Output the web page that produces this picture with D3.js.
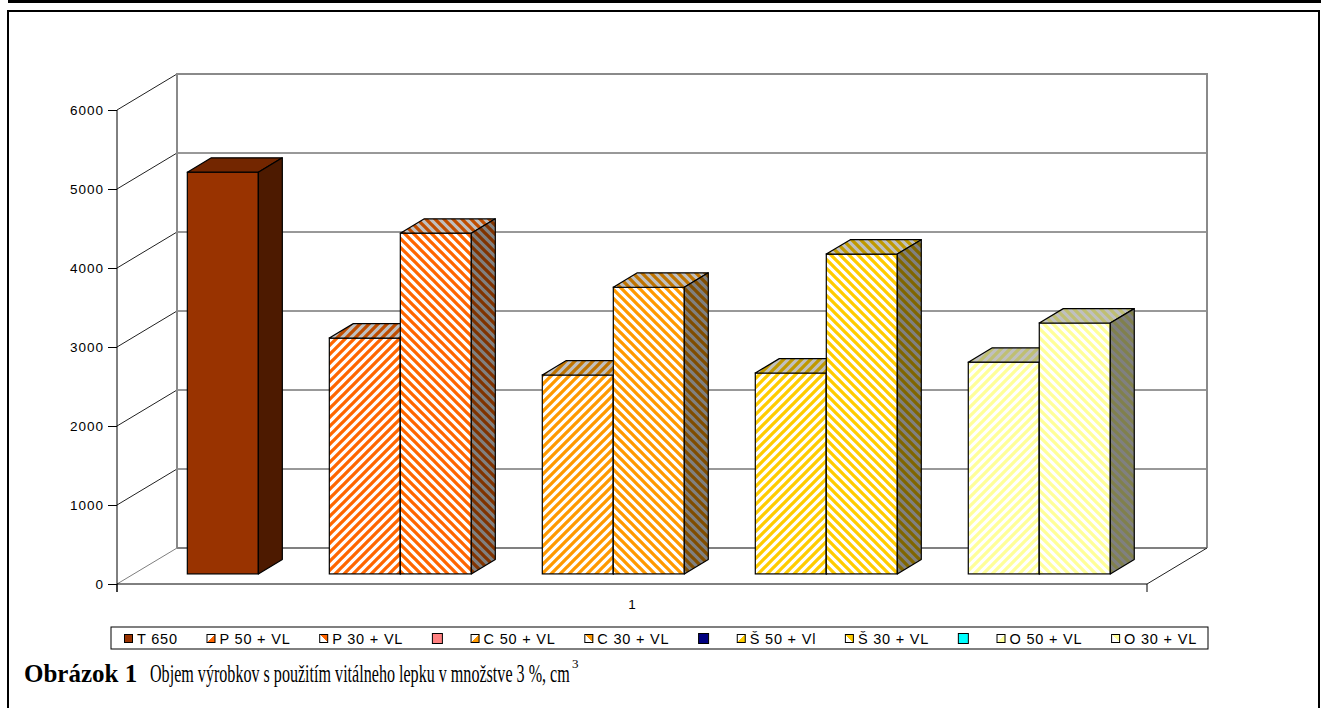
<!DOCTYPE html>
<html>
<head>
<meta charset="utf-8">
<script src="https://cdn.jsdelivr.net/npm/d3@7"></script>
<style>
  body { margin: 0; background: #fff; }
  svg { display: block; }
  .sans { font-family: "Liberation Sans", Arial, sans-serif; }
  .serif { font-family: "Liberation Serif", "Times New Roman", serif; }
</style>
</head>
<body>
<svg id="chart" width="1321" height="708"></svg>
<script>
// chart data: one category, 13 series slots (slot 1 is an empty series without legend entry)
var categories = ['1'];
var seriesNames  = ['T 650', '', 'P 50 + VL', 'P 30 + VL', '', 'C 50 + VL', 'C 30 + VL', '', 'Š 50 + Vl', 'Š 30 + VL', '', 'O 50 + VL', 'O 30 + VL'];
var seriesValues = [5085, null, 2986, 4313, null, 2518, 3629, null, 2543, 4049, null, 2680, 3176];
var seriesColors = ['#993300', '#ffffff', '#ff6600', '#ff6600', '#ff8080', '#ff9900', '#ff9900', '#000080', '#ffcc00', '#ffcc00', '#00ffff', '#ffff99', '#ffff99'];
var seriesFills  = ['solid', 'none', 'up', 'down', 'solid', 'up', 'down', 'solid', 'up', 'down', 'solid', 'up', 'down'];
var inLegend     = [true, false, true, true, true, true, true, true, true, true, true, true, true];
var yTicks = [0, 1000, 2000, 3000, 4000, 5000, 6000];

var svg = d3.select('#chart');
var defs = svg.append('defs');

/* ---------- geometry ---------- */
var plotL = 117, plotR = 1147, floorY = 584, topY = 110;
var depthX = 60, depthY = -36;          // full floor depth, screen offset
var barT0 = 0.28, barT1 = 0.68;         // bar depth position (fraction of floor)

var x = d3.scaleBand()
  .domain(d3.range(seriesNames.length))
  .range([plotL, plotR])
  .paddingInner(0)
  .paddingOuter(0.754);

var y = d3.scaleLinear().domain([0, 6000]).range([floorY, topY]);

function shade(c, k) {
  var r = d3.rgb(c);
  return d3.rgb(r.r * k, r.g * k, r.b * k).formatHex();
}

// striped pattern, 9px tile
var P = 9;
function addPattern(id, bg, fg, dir) {
  var p = defs.append('pattern')
    .attr('id', id)
    .attr('patternUnits', 'userSpaceOnUse')
    .attr('width', P)
    .attr('height', P);
  p.append('rect').attr('width', P).attr('height', P).attr('fill', bg);
  var h = P / 4;
  var d = dir === 'up'
    ? 'M' + (-h) + ',' + h + 'L' + h + ',' + (-h) + 'M0,' + P + 'L' + P + ',0M' + (P - h) + ',' + (P + h) + 'L' + (P + h) + ',' + (P - h)
    : 'M' + (-h) + ',' + (P - h) + 'L' + h + ',' + (P + h) + 'M0,0L' + P + ',' + P + 'M' + (P - h) + ',' + (-h) + 'L' + (P + h) + ',' + h;
  p.append('path').attr('d', d).attr('stroke', fg).attr('stroke-width', 3.3).attr('fill', 'none');
}

var faceFill = seriesNames.map(function(name, i) {
  var c = seriesColors[i];
  if (seriesFills[i] === 'up' || seriesFills[i] === 'down') {
    addPattern('pf' + i, '#ffffff', c, seriesFills[i]);
    addPattern('pt' + i, '#c0c0c0', shade(c, 0.75), seriesFills[i]);
    addPattern('ps' + i, '#808080', shade(c, 0.5), seriesFills[i]);
    return { front: 'url(#pf' + i + ')', top: 'url(#pt' + i + ')', side: 'url(#ps' + i + ')' };
  }
  return { front: c, top: shade(c, 0.75), side: shade(c, 0.5) };
});

// legend icon fill for hatched series: diagonal half split
function addIconGrad(id, c, dir) {
  var g = defs.append('linearGradient').attr('id', id)
    .attr('x1', 0).attr('y1', dir === 'up' ? 0 : 1).attr('x2', 1).attr('y2', dir === 'up' ? 1 : 0);
  g.append('stop').attr('offset', '0.5').attr('stop-color', '#fff');
  g.append('stop').attr('offset', '0.5').attr('stop-color', c);
}

/* ---------- page frame ---------- */
svg.append('rect').attr('x', 8).attr('y', 0).attr('width', 1313).attr('height', 3).attr('fill', '#000');
svg.append('path')
  .attr('d', 'M8,708V11H1319V708')
  .attr('fill', 'none')
  .attr('stroke', '#000')
  .attr('stroke-width', 2);

/* ---------- walls and floor ---------- */
var walls = svg.append('g');

// side wall gridlines (diagonals)
walls.selectAll('line.diag')
  .data(yTicks)
  .enter().append('line')
  .attr('x1', plotL).attr('y1', function(d) { return y(d); })
  .attr('x2', plotL + depthX).attr('y2', function(d) { return y(d) + depthY; })
  .attr('stroke', function(d) { return d === 0 ? '#808080' : '#222'; })
  .attr('stroke-width', 1);

// back wall gridlines
walls.selectAll('line.grid')
  .data(yTicks.filter(function(d) { return d > 0 && d < 6000; }))
  .enter().append('line')
  .attr('x1', plotL + depthX).attr('x2', plotR + depthX)
  .attr('y1', function(d) { return y(d) + depthY; })
  .attr('y2', function(d) { return y(d) + depthY; })
  .attr('stroke', '#333')
  .attr('stroke-width', 1);

// back wall outline
walls.append('path')
  .attr('d', 'M' + (plotL + depthX) + ',' + (y(0) + depthY) +
    'V' + (y(6000) + depthY) + 'H' + (plotR + depthX) + 'V' + (y(0) + depthY))
  .attr('fill', 'none')
  .attr('stroke', '#8a8a8a')
  .attr('stroke-width', 2);

// floor back edge
walls.append('line')
  .attr('x1', plotL + depthX).attr('x2', plotR + depthX)
  .attr('y1', y(0) + depthY).attr('y2', y(0) + depthY)
  .attr('stroke', '#808080').attr('stroke-width', 2);

// floor right edge
walls.append('line')
  .attr('x1', plotR).attr('y1', y(0))
  .attr('x2', plotR + depthX).attr('y2', y(0) + depthY)
  .attr('stroke', '#222').attr('stroke-width', 1);

/* ---------- bars ---------- */
var bdx = depthX * (barT1 - barT0), bdy = depthY * (barT1 - barT0);
var offX = depthX * barT0, offY = depthY * barT0;

var bars = svg.append('g')
  .selectAll('g')
  .data(seriesValues.map(function(v, i) { return { v: v, i: i }; })
    .filter(function(d) { return d.v !== null; }))
  .enter().append('g');

bars.each(function(d) {
  var g = d3.select(this);
  var x0 = x(d.i) + offX, x1 = x0 + x.bandwidth();
  var yt = y(d.v) + offY, yb = y(0) + offY;
  var f = faceFill[d.i];
  g.append('rect')
    .attr('x', x0).attr('y', yt)
    .attr('width', x1 - x0).attr('height', yb - yt)
    .attr('fill', f.front).attr('stroke', '#000').attr('stroke-width', 1.2);
  g.append('path')
    .attr('d', 'M' + x0 + ',' + yt + 'L' + x1 + ',' + yt + 'L' + (x1 + bdx) + ',' + (yt + bdy) +
      'L' + (x0 + bdx) + ',' + (yt + bdy) + 'Z')
    .attr('fill', f.top).attr('stroke', '#000').attr('stroke-width', 1.2).attr('stroke-linejoin', 'round');
  g.append('path')
    .attr('d', 'M' + x1 + ',' + yt + 'L' + (x1 + bdx) + ',' + (yt + bdy) + 'L' + (x1 + bdx) + ',' + (yb + bdy) +
      'L' + x1 + ',' + yb + 'Z')
    .attr('fill', f.side).attr('stroke', '#000').attr('stroke-width', 1.2).attr('stroke-linejoin', 'round');
});

/* ---------- axes ---------- */
var yAxis = d3.axisLeft(y).tickValues(yTicks).tickFormat(d3.format('d')).tickSize(9).tickPadding(4);
var yg = svg.append('g').attr('transform', 'translate(' + plotL + ',0)').call(yAxis);
yg.attr('font-family', null).attr('font-size', null);
yg.select('.domain').attr('d', 'M0,' + topY + 'V' + (floorY + 8)).attr('stroke', '#000');
yg.selectAll('line').attr('stroke', '#000');
yg.selectAll('text')
  .attr('class', 'sans')
  .attr('font-size', 13.5)
  .attr('letter-spacing', 1)
  .attr('dy', '0.36em')
  .attr('fill', '#000');

var xCat = d3.scaleBand().domain(categories).range([plotL, plotR]);
var xAxis = d3.axisBottom(xCat).tickSize(0).tickPadding(15);
var xg = svg.append('g').attr('transform', 'translate(0,' + floorY + ')').call(xAxis);
xg.attr('font-family', null).attr('font-size', null);
xg.select('.domain').attr('d', 'M' + plotL + ',8V0H' + plotR + 'V8').attr('stroke', '#000');
xg.selectAll('text').attr('class', 'sans').attr('font-size', 13.5).attr('fill', '#000');

/* ---------- legend ---------- */
var legL = 111, legR = 1208, legT = 627, legB = 649;
svg.append('rect')
  .attr('x', legL).attr('y', legT)
  .attr('width', legR - legL).attr('height', legB - legT)
  .attr('fill', '#fff').attr('stroke', '#000').attr('stroke-width', 1);

var legItems = seriesNames.map(function(n, i) { return { name: n, i: i }; })
  .filter(function(d) { return inLegend[d.i]; });

var leg = svg.append('g');
var items = leg.selectAll('g').data(legItems).enter().append('g');
items.each(function(d) {
  var g = d3.select(this);
  var s = d.name ? 8 : 10;
  var fill = faceFill[d.i].front;
  if (seriesFills[d.i] === 'up' || seriesFills[d.i] === 'down') {
    addIconGrad('ig' + d.i, seriesColors[d.i], seriesFills[d.i]);
    fill = 'url(#ig' + d.i + ')';
  }
  g.append('rect')
    .attr('x', 0.5).attr('y', d.name ? 634.5 : 633.5)
    .attr('width', s).attr('height', s)
    .attr('fill', fill)
    .attr('stroke', '#000').attr('stroke-width', 1);
  if (d.name) {
    var t = g.append('text')
      .attr('class', 'sans')
      .attr('x', s + 5).attr('y', 643.5)
      .attr('font-size', 14.5)
      .attr('letter-spacing', 0.8)
      .text(d.name);
    d.w = s + 5 + t.node().getComputedTextLength();
  } else {
    d.w = s;
  }
});
var legStart = 124, legEnd = 1197;
var totalW = d3.sum(legItems, function(d) { return d.w; });
var gap = (legEnd - legStart - totalW) / (legItems.length - 1);
var cx = legStart;
items.attr('transform', function(d) {
  var tx = cx;
  cx += d.w + gap;
  return 'translate(' + tx + ',0)';
});

/* ---------- caption ---------- */
svg.append('text')
  .attr('class', 'serif')
  .attr('x', 24).attr('y', 682)
  .attr('font-size', 25)
  .attr('font-weight', 'bold')
  .text('Obrázok 1');
// regular part is narrow in the original: squeeze it horizontally
var capW = 420;
var cap = svg.append('text')
  .attr('class', 'serif')
  .attr('font-size', 25)
  .text('Objem výrobkov s použitím vitálneho lepku v množstve 3 %, cm');
var capScale = capW / cap.node().getComputedTextLength();
cap.attr('transform', 'translate(150,682) scale(' + capScale + ',1)');
svg.append('text')
  .attr('class', 'serif')
  .attr('x', 150 + capW + 2).attr('y', 668)
  .attr('font-size', 13)
  .text('3');
</script>
</body>
</html>
